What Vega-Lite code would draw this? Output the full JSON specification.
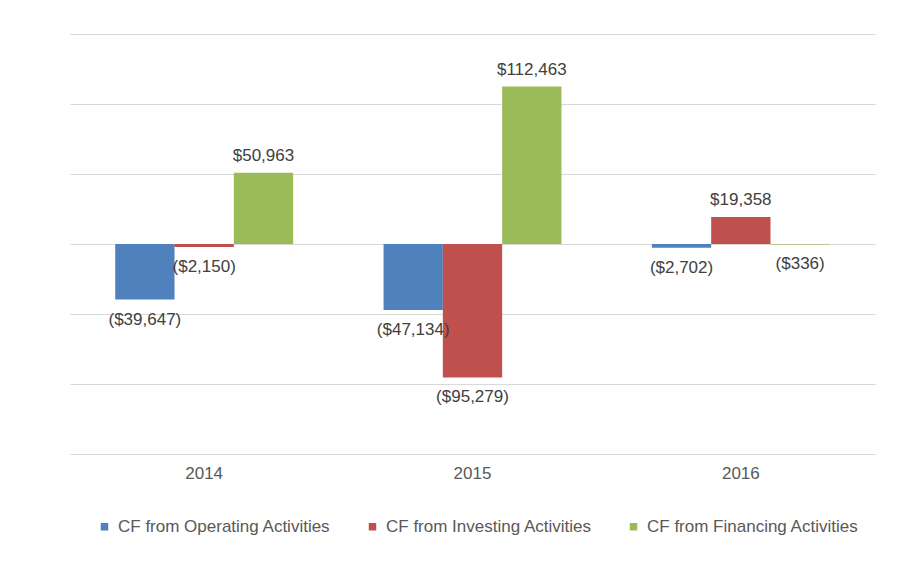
{
  "$schema": "https://vega.github.io/schema/vega-lite/v6.json",
  "autosize": "none",
  "width": 805,
  "height": 420,
  "padding": {"left": 70, "top": 34, "right": 47, "bottom": 132},
  "background": "white",
  "config": {"view": {"stroke": null}, "font": "Liberation Sans"},
  "data": {
    "values": [
      {"year": "2014", "series": "CF from Operating Activities", "value": -39647, "label": "($39,647)"},
      {"year": "2014", "series": "CF from Investing Activities", "value": -2150, "label": "($2,150)"},
      {"year": "2014", "series": "CF from Financing Activities", "value": 50963, "label": "$50,963"},
      {"year": "2015", "series": "CF from Operating Activities", "value": -47134, "label": "($47,134)"},
      {"year": "2015", "series": "CF from Investing Activities", "value": -95279, "label": "($95,279)"},
      {"year": "2015", "series": "CF from Financing Activities", "value": 112463, "label": "$112,463"},
      {"year": "2016", "series": "CF from Operating Activities", "value": -2702, "label": "($2,702)"},
      {"year": "2016", "series": "CF from Investing Activities", "value": 19358, "label": "$19,358"},
      {"year": "2016", "series": "CF from Financing Activities", "value": -336, "label": "($336)"}
    ]
  },
  "encoding": {
    "x": {
      "field": "year", "type": "nominal",
      "scale": {"paddingInner": 0.337, "paddingOuter": 0.1685},
      "axis": {"title": null, "domain": false, "ticks": false, "labelAngle": 0, "labelFontSize": 17, "labelColor": "#595959", "labelPadding": 11, "grid": false}
    },
    "xOffset": {
      "field": "series", "type": "nominal",
      "sort": ["CF from Operating Activities", "CF from Investing Activities", "CF from Financing Activities"],
      "scale": {"paddingInner": 0, "paddingOuter": 0}
    },
    "y": {
      "field": "value", "type": "quantitative",
      "scale": {"domain": [-150000, 150000], "nice": false, "zero": true},
      "axis": {"title": null, "labels": false, "ticks": false, "domain": false, "grid": true, "gridColor": "#d9d9d9", "gridWidth": 1, "values": [-150000, -100000, -50000, 0, 50000, 100000, 150000]}
    }
  },
  "layer": [
    {
      "mark": {"type": "bar"},
      "encoding": {
        "color": {
          "field": "series", "type": "nominal",
          "sort": ["CF from Operating Activities", "CF from Investing Activities", "CF from Financing Activities"],
          "scale": {"domain": ["CF from Operating Activities", "CF from Investing Activities", "CF from Financing Activities"], "range": ["#4F81BD", "#C0504D", "#9BBB59"]},
          "legend": {
            "title": null, "orient": "none", "direction": "horizontal",
            "legendX": 26, "legendY": 484,
            "symbolType": "square", "symbolSize": 56, "symbolStrokeWidth": 0,
            "labelFontSize": 17, "labelColor": "#595959", "labelOffset": 5,
            "columnPadding": 33, "labelLimit": 300
          }
        }
      }
    },
    {
      "transform": [{"filter": "datum.value >= 0"}],
      "mark": {"type": "text", "baseline": "bottom", "dy": -8, "fontSize": 17, "color": "#404040"},
      "encoding": {"text": {"field": "label"}}
    },
    {
      "transform": [{"filter": "datum.value < 0"}],
      "mark": {"type": "text", "baseline": "top", "dy": 12, "fontSize": 17, "color": "#404040"},
      "encoding": {"text": {"field": "label"}}
    }
  ]
}
